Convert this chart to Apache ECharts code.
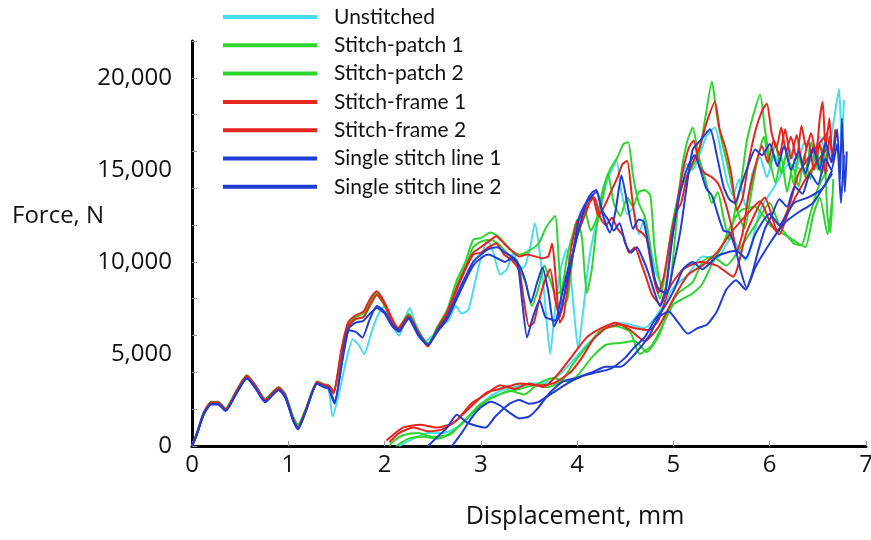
<!DOCTYPE html>
<html>
<head>
<meta charset="utf-8">
<script src="https://cdn.jsdelivr.net/npm/echarts@6/dist/echarts.min.js"></script>
<style>
  html, body { margin: 0; padding: 0; background: #ffffff; }
  #chart { width: 871px; height: 540px; }
</style>
</head>
<body>
<div id="chart"></div>
<script>
// Force–displacement records, [displacement mm, force N].
// Each specimen has a first loading trace (from 0 mm) and a second trace that starts later.

const specimenNames = ['Unstitched', 'Stitch-patch 1', 'Stitch-patch 2', 'Stitch-frame 1', 'Stitch-frame 2', 'Single stitch line 1', 'Single stitch line 2'];
const xTickLabels = [0, 1, 2, 3, 4, 5, 6, 7];
const yTickLabels = [0, 5000, 10000, 15000, 20000];

const unstitchedFirst = [
  [0,0],[0.05,650],[0.12,1700],[0.2,2300],[0.27,2300],[0.35,1950],[0.45,2800],[0.57,3700],[0.66,3200],[0.76,2450],
  [0.85,2900],[0.9,3100],[0.97,2700],[1.05,1500],[1.1,1100],[1.18,1900],[1.3,3400],[1.38,3200],[1.42,3100],
  [1.46,1600],[1.52,2700],[1.6,4600],[1.67,5800],[1.73,5500],[1.79,5000],[1.86,6100],[1.93,7100],[2.0,7600],[2.08,6600],
  [2.15,6000],[2.21,6900],[2.26,7500],[2.33,6500],[2.42,5700],[2.5,6000],[2.58,6500],[2.66,6800],[2.74,7600],[2.8,7200],
  [2.87,7400],[2.94,8900],[3.0,10200],[3.07,11200],[3.13,10500],[3.2,9300],[3.27,9600],[3.34,10500],[3.4,9600],[3.46,9800],
  [3.52,11000],[3.56,12100],[3.61,10600],[3.66,8200],[3.72,5000],[3.77,7400],[3.83,9600],[3.89,10700],[3.95,8300],[4.01,5300],
  [4.06,7200],[4.12,10000],[4.18,11700],[4.24,12800],[4.3,14200],[4.36,15000],[4.41,15500],[4.46,13800],[4.52,12600],[4.58,12900],
  [4.64,11500],[4.7,12400],[4.76,10800],[4.82,9400],[4.88,8800],[4.94,10200],[5.0,12200],[5.07,14200],[5.14,15300],[5.2,15000],
  [5.27,15800],[5.34,16800],[5.43,17300],[5.5,15800],[5.56,14300],[5.62,13600],[5.68,14500],[5.75,13000],[5.82,14800],[5.9,15700],
  [5.97,14600],[6.05,15800],[6.12,15000],[6.2,16200],[6.28,15200],[6.36,16500],[6.44,15600],[6.52,16800],[6.6,15800],[6.66,17500],
  [6.72,19400],[6.75,16000],[6.77,18800]
];
const unstitchedSecond = [
  [2.15,0],[2.3,400],[2.45,700],[2.6,700],[2.75,1000],[2.9,1700],[3.05,2500],[3.2,3000],[3.35,3200],[3.5,3400],[3.65,3400],
  [3.8,3800],[3.95,4600],[4.1,5500],[4.25,6200],[4.4,6700],[4.55,6600],[4.7,6400],[4.8,6900],[4.9,7700],[5.0,8600],[5.15,9300],
  [5.3,10300],[5.45,10200],[5.6,11300],[5.75,10100],[5.9,12800],[6.05,14100],[6.2,15300],[6.35,15000],[6.5,16300]
];

const patch1First = [
  [0,0],[0.05,700],[0.12,1800],[0.2,2400],[0.27,2400],[0.35,2050],[0.45,2900],[0.57,3850],[0.66,3300],[0.76,2550],
  [0.85,3000],[0.9,3200],[0.97,2800],[1.05,1600],[1.1,1150],[1.18,2000],[1.3,3500],[1.38,3350],[1.42,3300],
  [1.47,2900],[1.55,5100],[1.62,6600],[1.7,7000],[1.78,7200],[1.85,7900],[1.92,8300],[2.0,7700],[2.08,6800],[2.14,6400],
  [2.25,7200],[2.35,6300],[2.45,5500],[2.55,6500],[2.65,7400],[2.75,9000],[2.84,10000],[2.92,11200],[3.0,11300],[3.1,11600],
  [3.2,11300],[3.3,10700],[3.4,10400],[3.5,10600],[3.6,11000],[3.68,11900],[3.77,12500],[3.81,10000],[3.85,7600],[3.9,8000],
  [3.96,10500],[4.02,12300],[4.08,12800],[4.14,11700],[4.2,12300],[4.27,14000],[4.34,15000],[4.42,15700],[4.48,16400],[4.53,16500],
  [4.58,14700],[4.64,13200],[4.7,12500],[4.75,11200],[4.8,9200],[4.86,8000],[4.92,9600],[4.98,11800],[5.05,13500],[5.12,14500],
  [5.2,15200],[5.27,16000],[5.33,17800],[5.4,19800],[5.45,18000],[5.5,16600],[5.56,15300],[5.62,13800],[5.68,12500],[5.74,11800],
  [5.8,13500],[5.87,15500],[5.94,16800],[6.0,15200],[6.06,16500],[6.12,14800],[6.18,16000],[6.25,14200],[6.3,15800],[6.37,14600],
  [6.43,16500],[6.5,15000],[6.56,16300],[6.6,12500],[6.63,11600],[6.66,14500]
];
const patch1Second = [
  [2.05,0],[2.1,300],[2.2,600],[2.35,700],[2.5,500],[2.65,600],[2.8,1200],[2.95,2000],[3.1,2600],[3.25,2900],[3.4,3100],
  [3.55,3300],[3.7,3200],[3.85,3600],[3.95,4400],[4.1,5400],[4.25,6300],[4.4,6500],[4.55,6200],[4.65,5000],[4.78,5500],
  [4.9,6700],[5.0,7700],[5.1,8000],[5.2,8300],[5.3,8800],[5.4,9900],[5.5,10800],[5.6,12000],[5.7,12800],[5.85,13000],
  [6.0,12000],[6.15,11500],[6.3,11000],[6.37,10800],[6.45,12500],[6.52,13500],[6.6,11500],[6.65,13500]
];

const patch2First = [
  [0,0],[0.05,600],[0.12,1750],[0.2,2350],[0.27,2350],[0.35,2000],[0.45,2850],[0.57,3800],[0.66,3250],[0.76,2500],
  [0.85,2950],[0.9,3150],[0.97,2750],[1.05,1550],[1.1,1100],[1.18,1950],[1.3,3450],[1.38,3300],[1.42,3250],
  [1.47,3000],[1.55,4900],[1.62,6400],[1.7,6900],[1.78,7000],[1.85,7600],[1.92,8200],[2.0,7600],[2.08,6700],[2.14,6300],
  [2.25,7100],[2.35,6200],[2.45,5600],[2.55,6300],[2.65,7100],[2.75,8700],[2.85,9900],[2.92,10800],[3.0,11100],[3.1,11200],
  [3.18,11000],[3.25,10600],[3.32,10200],[3.4,9600],[3.47,8800],[3.53,7600],[3.6,8600],[3.66,9800],[3.72,9000],[3.78,8200],
  [3.84,8500],[3.9,10400],[3.96,11600],[4.0,12300],[4.05,11300],[4.1,8300],[4.15,9500],[4.2,11800],[4.27,13600],[4.32,14800],
  [4.38,13200],[4.45,12500],[4.52,13500],[4.58,13000],[4.64,13800],[4.7,13900],[4.76,13600],[4.8,11000],[4.84,9400],[4.9,8300],
  [4.96,8600],[5.02,11500],[5.08,14800],[5.14,16500],[5.2,17300],[5.26,15800],[5.33,14500],[5.4,13200],[5.46,13800],[5.52,12400],
  [5.58,11200],[5.64,12800],[5.7,14200],[5.76,16500],[5.82,17800],[5.9,19100],[5.95,17200],[6.0,15600],[6.06,14300],[6.12,15700],
  [6.18,13800],[6.24,15200],[6.3,14100],[6.36,15800],[6.42,14500],[6.48,16200],[6.54,14800],[6.6,16000]
];
const patch2Second = [
  [2.12,0],[2.25,400],[2.4,500],[2.55,400],[2.7,700],[2.85,1500],[3.0,2300],[3.15,2700],[3.3,3000],[3.45,2800],[3.6,3400],
  [3.75,3700],[3.9,3500],[4.0,3800],[4.15,4800],[4.3,5500],[4.45,5600],[4.6,5700],[4.72,5100],[4.85,6000],[4.95,7400],
  [5.05,8300],[5.2,8900],[5.3,10000],[5.4,10300],[5.55,9800],[5.7,10800],[5.85,12000],[6.0,13200],[6.1,12000],[6.25,11000],
  [6.33,10900],[6.4,12200],[6.5,14000],[6.6,15000]
];

const frame1First = [
  [0,0],[0.05,680],[0.12,1780],[0.2,2380],[0.27,2380],[0.35,2000],[0.45,2880],[0.57,3820],[0.66,3280],[0.76,2500],
  [0.85,2980],[0.9,3180],[0.97,2750],[1.05,1450],[1.1,950],[1.18,1900],[1.3,3480],[1.38,3300],[1.42,3250],
  [1.47,2850],[1.55,5200],[1.62,6700],[1.7,7100],[1.78,7300],[1.85,8000],[1.92,8400],[2.0,7800],[2.08,6900],[2.14,6400],
  [2.25,7000],[2.35,6100],[2.45,5400],[2.55,6400],[2.65,7300],[2.75,8600],[2.85,9800],[2.92,10500],[3.0,10800],[3.08,11100],
  [3.16,11400],[3.24,11000],[3.32,10600],[3.4,10300],[3.48,10400],[3.56,10300],[3.64,10200],[3.7,10300],[3.74,11000],[3.78,9000],
  [3.82,6700],[3.86,7100],[3.92,9300],[3.98,11100],[4.04,12000],[4.1,12800],[4.16,13600],[4.22,12500],[4.28,13000],[4.35,13800],
  [4.42,14600],[4.47,15300],[4.52,15500],[4.57,13500],[4.62,11800],[4.67,11600],[4.72,11300],[4.78,9500],[4.84,8300],[4.9,9200],
  [4.96,11000],[5.02,12600],[5.08,13200],[5.14,14600],[5.2,15400],[5.27,16200],[5.34,17500],[5.43,18700],[5.48,17200],[5.54,16200],
  [5.6,14800],[5.66,12800],[5.72,13500],[5.78,15400],[5.85,17100],[5.92,18200],[5.97,18600],[6.02,17000],[6.07,16200],[6.12,17300],
  [6.17,16000],[6.22,16800],[6.28,15600],[6.33,17400],[6.38,16200],[6.43,17000],[6.48,15800],[6.52,17800],[6.55,18700],[6.58,16200],
  [6.62,17800],[6.65,15500],[6.68,17200]
];
const frame1Second = [
  [2.02,300],[2.19,1000],[2.37,1150],[2.54,1000],[2.71,1250],[2.89,2100],[3.06,2900],[3.23,3150],[3.41,3400],[3.58,3300],
  [3.75,3400],[3.93,4000],[4.05,4800],[4.17,5800],[4.3,6400],[4.45,6600],[4.6,6400],[4.75,6300],[4.85,6900],[4.96,8600],
  [5.1,9600],[5.28,10000],[5.45,9800],[5.62,9200],[5.76,11600],[5.95,13500],[6.08,11700],[6.2,13000],[6.3,14800],[6.45,16000],
  [6.6,17000]
];

const frame2First = [
  [0,0],[0.05,620],[0.12,1720],[0.2,2320],[0.27,2320],[0.35,1980],[0.45,2820],[0.57,3780],[0.66,3230],[0.76,2480],
  [0.85,2930],[0.9,3130],[0.97,2720],[1.05,1480],[1.1,1000],[1.18,1920],[1.3,3420],[1.38,3280],[1.42,3280],
  [1.47,2950],[1.55,5000],[1.62,6500],[1.7,6900],[1.78,7000],[1.85,7700],[1.92,8200],[2.0,7700],[2.08,6700],[2.14,6400],
  [2.25,7100],[2.35,6200],[2.45,5500],[2.55,6300],[2.65,7200],[2.75,8500],[2.85,9700],[2.92,10400],[3.0,10500],[3.08,10800],
  [3.16,11000],[3.24,10400],[3.32,10100],[3.4,9500],[3.45,7800],[3.5,6500],[3.55,6700],[3.6,7800],[3.66,8900],[3.72,9600],
  [3.77,8000],[3.82,7000],[3.88,8600],[3.94,10800],[4.0,12200],[4.06,12600],[4.12,13200],[4.18,13500],[4.24,12400],[4.3,12000],
  [4.36,12400],[4.42,11800],[4.48,11400],[4.54,10500],[4.6,10800],[4.66,10000],[4.72,9100],[4.78,8200],[4.86,7700],[4.92,8600],
  [4.98,11000],[5.04,13200],[5.1,15000],[5.16,16200],[5.21,16600],[5.27,15200],[5.33,14800],[5.4,14600],[5.47,14200],[5.54,13200],
  [5.6,12000],[5.66,10600],[5.72,11600],[5.78,13600],[5.85,15200],[5.92,16300],[5.98,15400],[6.04,16600],[6.1,15800],[6.16,17200],
  [6.22,15600],[6.28,16900],[6.34,15200],[6.4,16600],[6.46,15000],[6.52,16400],[6.58,14800],[6.62,16800],[6.66,15400]
];
const frame2Second = [
  [2.05,200],[2.15,700],[2.3,1000],[2.45,800],[2.6,900],[2.75,1400],[2.9,2300],[3.05,2800],[3.2,3300],[3.35,3100],[3.5,3400],
  [3.65,3200],[3.8,3900],[3.95,4900],[4.1,5900],[4.25,6400],[4.4,6700],[4.55,6300],[4.7,5700],[4.85,6500],[5.0,8000],
  [5.15,9300],[5.3,9800],[5.45,10500],[5.6,11600],[5.75,12500],[5.9,13300],[6.0,12200],[6.1,11500],[6.2,12800],[6.35,14300],
  [6.5,15500],[6.6,16200]
];

const line1First = [
  [0,0],[0.05,640],[0.12,1740],[0.2,2280],[0.27,2280],[0.35,1930],[0.45,2760],[0.57,3680],[0.66,3150],[0.76,2400],
  [0.85,2860],[0.9,3060],[0.97,2650],[1.05,1400],[1.1,900],[1.18,1850],[1.3,3400],[1.38,3200],[1.42,3100],
  [1.48,2300],[1.55,4300],[1.62,6300],[1.7,6200],[1.77,5900],[1.84,6800],[1.92,7600],[2.0,7300],[2.08,6600],[2.15,6300],
  [2.25,6900],[2.35,6000],[2.45,5500],[2.55,6300],[2.65,7000],[2.75,8200],[2.85,9300],[2.92,10000],[3.0,10400],[3.08,10700],
  [3.17,10800],[3.25,10500],[3.32,10300],[3.38,10000],[3.43,7800],[3.48,5900],[3.54,7000],[3.61,7900],[3.67,7000],[3.72,6900],
  [3.77,6800],[3.84,8200],[3.9,9500],[3.96,10500],[4.03,12000],[4.1,13300],[4.16,13800],[4.2,13900],[4.27,12500],[4.34,11600],
  [4.4,12800],[4.46,14700],[4.52,13200],[4.58,11800],[4.64,12300],[4.69,12200],[4.75,10600],[4.8,9200],[4.85,8500],[4.93,8300],
  [5.0,9800],[5.07,11600],[5.13,13800],[5.2,16100],[5.28,16600],[5.38,17200],[5.45,15800],[5.52,14100],[5.58,13400],[5.64,13200],
  [5.7,14100],[5.78,15300],[5.85,16100],[5.92,15800],[6.0,16400],[6.08,15200],[6.15,16300],[6.22,15000],[6.3,16000],[6.37,14800],
  [6.45,16200],[6.52,15000],[6.58,16500],[6.64,15400],[6.7,17200],[6.73,14500],[6.75,17800],[6.78,13800],[6.8,16000]
];
const line1Second = [
  [2.45,0],[2.55,500],[2.65,1000],[2.75,1700],[2.85,1300],[2.95,1100],[3.05,1000],[3.15,1600],[3.3,2300],[3.4,2500],
  [3.5,2300],[3.6,2400],[3.75,2900],[3.9,3400],[4.05,3800],[4.2,4000],[4.35,4200],[4.5,4800],[4.6,5400],[4.7,5900],
  [4.8,6800],[4.9,7500],[5.0,8400],[5.1,9600],[5.2,10000],[5.3,9600],[5.45,10300],[5.55,10500],[5.65,10600],[5.75,10200],
  [5.85,11500],[6.0,12600],[6.1,12000],[6.25,13200],[6.4,13500],[6.55,14000],[6.65,15000]
];

const line2First = [
  [0,0],[0.05,620],[0.12,1700],[0.2,2260],[0.27,2260],[0.35,1900],[0.45,2740],[0.57,3660],[0.66,3130],[0.76,2380],
  [0.85,2840],[0.9,3040],[0.97,2620],[1.05,1380],[1.1,950],[1.18,1880],[1.3,3380],[1.38,3180],[1.42,3150],
  [1.48,2400],[1.56,4600],[1.63,6400],[1.7,6700],[1.78,6800],[1.85,7200],[1.92,7500],[2.0,7200],[2.08,6500],[2.15,6200],
  [2.25,7000],[2.35,6100],[2.45,5500],[2.55,6200],[2.65,6900],[2.75,8000],[2.85,9100],[2.92,9800],[3.0,10200],[3.08,10400],
  [3.17,10200],[3.25,10000],[3.32,10200],[3.4,9800],[3.46,9000],[3.52,7800],[3.58,8800],[3.64,9700],[3.7,8400],[3.76,6500],
  [3.82,7200],[3.88,8500],[3.95,10300],[4.02,12400],[4.08,13100],[4.14,13500],[4.2,13800],[4.26,12800],[4.32,12300],[4.38,11700],
  [4.44,12100],[4.5,11000],[4.56,10500],[4.62,10800],[4.68,10200],[4.74,9400],[4.8,8400],[4.86,7600],[4.92,8400],[4.98,11000],
  [5.04,13000],[5.1,14400],[5.16,15300],[5.22,15800],[5.28,15000],[5.34,14000],[5.4,13600],[5.46,12600],[5.52,11700],[5.58,11600],
  [5.64,10800],[5.7,9500],[5.76,8600],[5.82,9400],[5.88,10600],[5.95,11800],[6.02,12500],[6.1,13400],[6.18,13000],[6.26,14100],
  [6.34,13700],[6.42,14800],[6.5,14200],[6.58,15600],[6.64,15000],[6.7,16400],[6.74,13200],[6.77,15800]
];
const line2Second = [
  [2.7,0],[2.8,700],[2.9,1500],[3.0,2100],[3.1,2400],[3.2,2200],[3.3,1800],[3.4,1500],[3.5,1600],[3.6,2100],[3.7,2800],
  [3.85,3500],[4.0,3700],[4.15,4000],[4.3,4300],[4.45,4300],[4.6,5000],[4.75,6000],[4.85,7000],[4.95,7300],[5.05,6700],
  [5.15,6100],[5.25,6400],[5.35,6600],[5.45,7300],[5.55,8500],[5.65,9000],[5.75,8500],[5.85,9700],[6.0,11000],[6.15,12100],
  [6.3,12700],[6.45,13200],[6.55,14000],[6.65,14800]
];

const specimenColors = ['#47dcee', '#2fd42f', '#2fd42f', '#e4261f', '#e4261f', '#1f3cd4', '#1f3cd4'];
const specimenTraces = [
  [unstitchedFirst, unstitchedSecond],
  [patch1First, patch1Second],
  [patch2First, patch2Second],
  [frame1First, frame1Second],
  [frame2First, frame2Second],
  [line1First, line1Second],
  [line2First, line2Second]
];

const LEGEND_FONT = 'Lato';
const AXIS_FONT = 'Open Sans';
const series = [];
specimenNames.forEach(function (name, i) {
  specimenTraces[i].forEach(function (trace) {
    series.push({
      type: 'line',
      name: name,
      data: trace,
      showSymbol: false,
      symbol: 'none',
      smooth: 0.2,
      clip: true,
      color: specimenColors[i],
      lineStyle: { color: specimenColors[i], width: 2 },
      itemStyle: { color: specimenColors[i] },
      emphasis: { disabled: true },
      animation: false
    });
  });
});

const chart = echarts.init(document.getElementById('chart'), null, { renderer: 'canvas' });
chart.setOption({
  backgroundColor: '#ffffff',
  animation: false,
  grid: { left: 192, right: 5, top: 41, bottom: 94, containLabel: false, outerBoundsMode: 'none' },
  legend: {
    orient: 'vertical',
    left: 223,
    top: 6,
    padding: 0,
    itemWidth: 94,
    itemHeight: 4,
    itemGap: 6.3,
    icon: 'rect',
    data: specimenNames,
    textStyle: { fontFamily: LEGEND_FONT, fontSize: 21, color: '#111', lineHeight: 22, padding: [0, 0, 0, 12] }
  },
  graphic: [
    {
      type: 'text',
      left: 12,
      top: 204,
      style: { text: 'Force, N', fontFamily: AXIS_FONT, fontSize: 24, fill: '#111' }
    }
  ],
  xAxis: {
    type: 'value',
    min: 0,
    max: 7,
    interval: 1,
    axisLine: { show: true, lineStyle: { color: '#000', width: 3 } },
    axisTick: { show: true, inside: true, length: 5, lineStyle: { color: '#999', width: 1 } },
    axisLabel: {
      fontFamily: AXIS_FONT, fontSize: 24, color: '#111', margin: 7,
      formatter: function (v) { return xTickLabels.indexOf(v) >= 0 ? String(v) : ''; }
    },
    splitLine: { show: false },
    name: 'Displacement, mm',
    nameLocation: 'middle',
    nameGap: 58,
    nameTextStyle: { fontFamily: AXIS_FONT, fontSize: 25, color: '#111', padding: [0, 0, 0, 92] }
  },
  yAxis: [
    {
      type: 'value',
      min: 0,
      max: 22000,
      interval: 2000,
      axisLine: { show: true, lineStyle: { color: '#000', width: 3 } },
      axisTick: { show: true, inside: true, length: 5, lineStyle: { color: '#999', width: 1 } },
      axisLabel: { show: false },
      splitLine: { show: false }
    },
    {
      type: 'value',
      min: 0,
      max: 22000,
      interval: 5000,
      position: 'left',
      axisLine: { show: false },
      axisTick: { show: false },
      splitLine: { show: false },
      axisLabel: {
        fontFamily: AXIS_FONT, fontSize: 24, color: '#111', margin: 20,
        formatter: function (v) { return yTickLabels.indexOf(v) >= 0 ? v.toLocaleString('en-US') : ''; }
      }
    }
  ],
  series: series
});
</script>
</body>
</html>
